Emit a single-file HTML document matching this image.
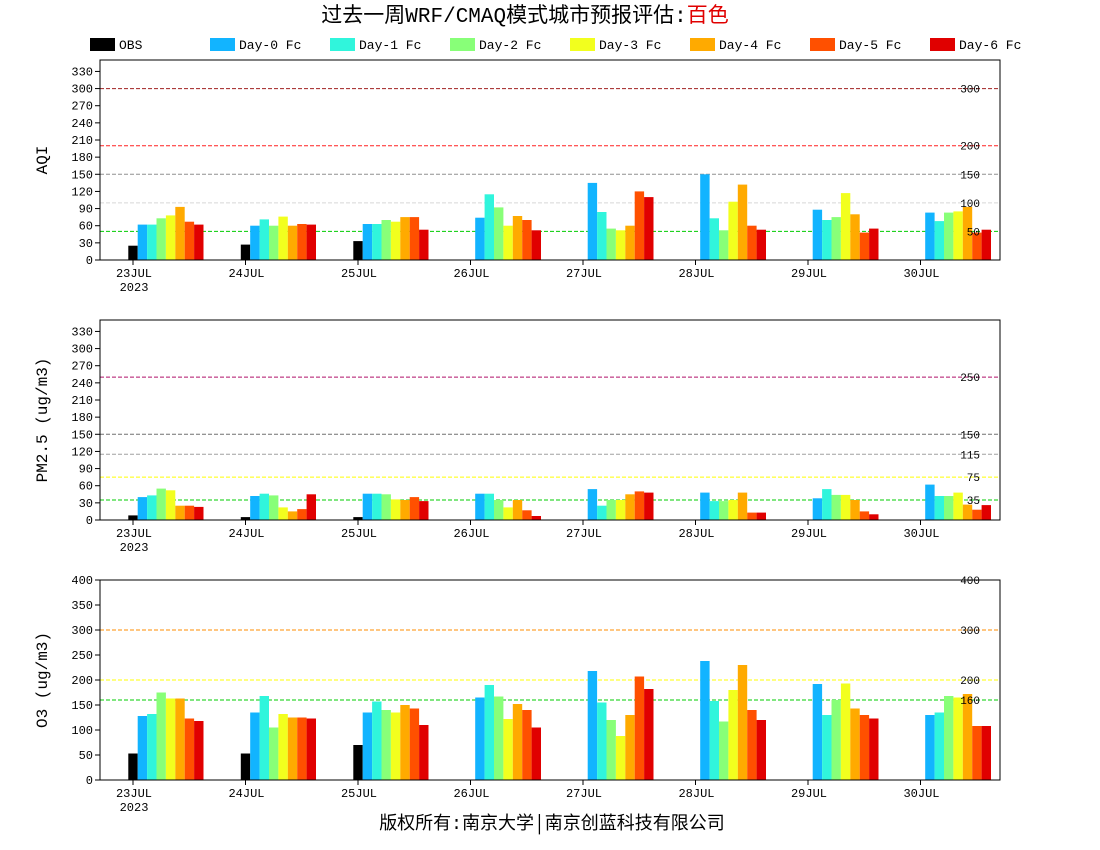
<!DOCTYPE html>
<html><head><meta charset="utf-8"><style>
html,body{margin:0;padding:0;background:#fff;width:1100px;height:850px;overflow:hidden}
svg text{font-family:"Liberation Mono","Noto Sans CJK SC",monospace}
</style></head><body>
<svg id="s" width="1100" height="850" xmlns="http://www.w3.org/2000/svg">
<text x="525" y="22" text-anchor="middle" font-size="21" style="font-family:'Liberation Mono','Noto Sans CJK SC',monospace">过去一周WRF/CMAQ模式城市预报评估:<tspan fill="#e00000">百色</tspan></text>
<text x="552" y="829" text-anchor="middle" font-size="18" style="font-family:'Liberation Mono','Noto Sans CJK SC',monospace">版权所有:南京大学│南京创蓝科技有限公司</text>
</svg>
<script>
var s=document.getElementById('s'),h='';
var cols=['#000','#12b4ff','#30f5dc','#88ff78','#f2ff1e','#ffaa00','#ff5000','#e00000'];
var names=['OBS','Day-0 Fc','Day-1 Fc','Day-2 Fc','Day-3 Fc','Day-4 Fc','Day-5 Fc','Day-6 Fc'];
var lx=[90,210,330,450,570,690,810,930];
for(var i=0;i<8;i++){h+='<rect x="'+lx[i]+'" y="38" width="25" height="13" fill="'+cols[i]+'"/><text x="'+(lx[i]+29)+'" y="49" font-size="13">'+names[i]+'</text>';}
var panels=[
{top:60,max:350,ticks:[0,30,60,90,120,150,180,210,240,270,300,330],label:'AQI',
 lines:[[300,'#a02020','300'],[200,'#ff2020','200'],[150,'#909090','150'],[100,'#d8d8d8','100'],[50,'#00cc00','50']],
 d:[[25,62,62,73,78,93,67,62],[27,60,71,60,76,60,63,62],[33,63,63,70,67,75,75,53],[null,74,115,92,60,77,70,52],[null,135,84,55,52,60,120,110],[null,150,73,52,102,132,60,53],[null,88,70,75,117,80,48,55],[null,83,68,83,85,93,48,53]]},
{top:320,max:350,ticks:[0,30,60,90,120,150,180,210,240,270,300,330],label:'PM2.5 (ug/m3)',
 lines:[[250,'#b0106a','250'],[150,'#707070','150'],[115,'#a0a0a0','115'],[75,'#ffff00','75'],[35,'#00cc00','35']],
 d:[[8,40,43,55,52,25,25,23],[5,42,46,43,22,15,19,45],[5,46,46,45,36,35,40,33],[null,46,46,35,22,35,17,7],[null,54,25,35,35,45,50,48],[null,48,33,33,35,48,13,13],[null,38,54,44,44,35,15,10],[null,62,42,42,48,27,18,26]]},
{top:580,max:400,ticks:[0,50,100,150,200,250,300,350,400],label:'O3 (ug/m3)',
 lines:[[400,'#ff0000','400'],[300,'#ff8c00','300'],[200,'#ffff00','200'],[160,'#00cc00','160']],
 d:[[53,128,132,175,163,163,123,118],[53,135,168,105,132,125,125,123],[70,135,157,140,135,150,143,110],[null,165,190,167,122,152,140,105],[null,218,155,120,88,130,207,182],[null,238,158,117,180,230,140,120],[null,192,130,160,193,143,130,123],[null,130,135,168,165,172,108,108]]}];
var days=['23JUL','24JUL','25JUL','26JUL','27JUL','28JUL','29JUL','30JUL'];
panels.forEach(function(p){
 var b=p.top+200,k=200/p.max;function Y(v){return b-v*k;}
 p.lines.forEach(function(l){var y=Y(l[0]);h+='<line x1="100" x2="1000" y1="'+y+'" y2="'+y+'" stroke="'+l[1]+'" stroke-dasharray="4,2"/>';});
 p.d.forEach(function(day,i){day.forEach(function(v,j){if(v==null)return;var cx=100+112.5*i+33+9.4*j;h+='<rect x="'+(cx-4.7).toFixed(1)+'" y="'+Y(v).toFixed(1)+'" width="9.4" height="'+(v*k).toFixed(1)+'" fill="'+cols[j]+'"/>';});
  var tx=100+112.5*i+33;h+='<line x1="'+tx+'" x2="'+tx+'" y1="'+b+'" y2="'+(b+5)+'" stroke="#000"/><text x="'+(tx+1)+'" y="'+(b+17)+'" font-size="12" text-anchor="middle">'+days[i]+'</text>';});
 p.lines.forEach(function(l){var y=Y(l[0]);h+='<text x="980" y="'+(y+4)+'" font-size="11" text-anchor="end">'+l[2]+'</text>';});
 h+='<text x="134" y="'+(b+31)+'" font-size="12" text-anchor="middle">2023</text>';
 p.ticks.forEach(function(t){var y=Y(t);h+='<line x1="95" x2="100" y1="'+y+'" y2="'+y+'" stroke="#000"/><text x="93" y="'+(y+4)+'" font-size="12" text-anchor="end">'+t+'</text>';});
 h+='<rect x="100" y="'+p.top+'" width="900" height="200" fill="none" stroke="#000"/>';
 h+='<text transform="translate(47,'+(p.top+100)+') rotate(-90)" font-size="16" text-anchor="middle">'+p.label+'</text>';
});
s.insertAdjacentHTML('beforeend',h);
</script>
</body></html>
